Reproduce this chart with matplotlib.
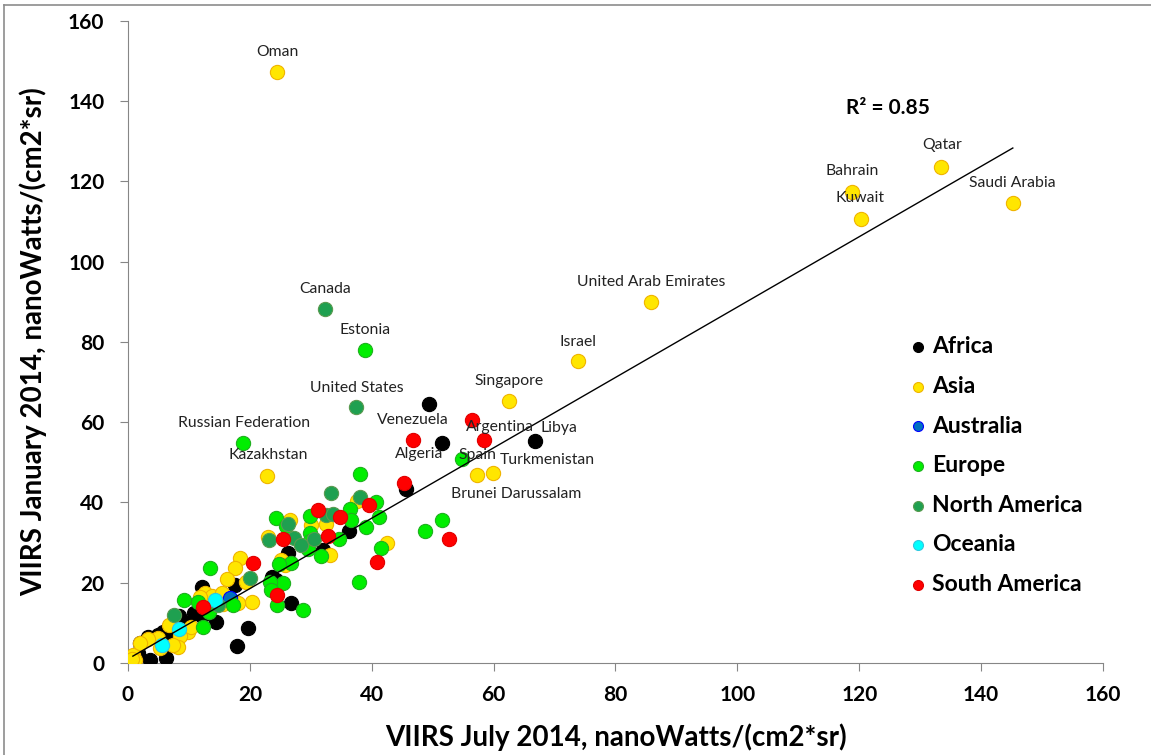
import numpy as np
import matplotlib
matplotlib.use("Agg")
import matplotlib.pyplot as plt
from matplotlib.lines import Line2D

plt.rcParams['font.family'] = ['Lato', 'DejaVu Sans']

# VIIRS radiance per country, July 2014 (x) vs January 2014 (y)
africa_x = [49.4, 51.5, 66.8, 45.6, 36.3, 32.0, 26.2, 23.6, 24.3, 17.6, 12.1, 26.7, 12.1, 10.8,
            14.4, 19.7, 17.9, 8.4, 9.8, 5.7, 4.9, 3.6, 6.2, 2.0, 3.3, 1.6, 6.5]
africa_y = [64.5, 54.8, 55.3, 43.4, 32.9, 28.2, 27.4, 21.4, 20.7, 19.4, 18.9, 15.0, 11.7, 12.5,
            10.2, 8.7, 4.2, 11.7, 10.0, 7.7, 7.0, 0.7, 1.2, 5.0, 6.5, 2.5, 7.5]

asia_x = [24.45, 133.4, 118.8, 120.3, 145.2, 85.8, 73.8, 62.5, 22.8, 57.3, 59.9,
          37.6, 26.6, 32.5, 30.0, 23.0, 33.1, 42.5, 18.4, 17.6, 25.1, 25.8, 16.2, 19.4,
          20.3, 12.6, 13.8, 15.4, 15.6, 18.0, 11.8, 6.7, 9.8, 8.5, 4.9, 3.3, 8.2, 0.8,
          1.1, 5.3, 2.0, 7.4, 10.4, 0.6]
asia_y = [147.3, 123.6, 117.4, 110.7, 114.6, 90.0, 75.3, 65.3, 46.6, 46.9, 47.4,
          40.4, 35.6, 34.6, 34.4, 31.4, 26.9, 29.9, 26.2, 23.7, 25.7, 24.4, 20.9, 20.2,
          15.2, 17.4, 16.7, 17.4, 14.7, 15.0, 16.4, 9.5, 7.7, 6.7, 6.2, 6.0, 4.0, 2.0,
          0.7, 3.7, 5.0, 4.5, 9.0, 1.0]

australia_x = [16.7]
australia_y = [16.2]

europe_x = [38.9, 18.9, 54.8, 38.1, 40.7, 36.4, 41.2, 29.9, 24.3, 25.9, 36.6, 39.1, 29.9,
            29.9, 34.6, 29.5, 31.7, 41.5, 51.5, 48.7, 37.9, 26.7, 24.8, 13.5, 25.4, 23.3,
            23.5, 24.4, 28.7, 9.2, 17.2, 13.3, 12.3, 11.5]
europe_y = [78.0, 54.8, 50.8, 47.1, 40.1, 38.4, 36.4, 36.6, 36.1, 34.1, 35.6, 33.9, 32.4,
            30.4, 30.9, 28.4, 26.7, 28.7, 35.6, 32.9, 20.2, 25.0, 24.7, 23.7, 19.9, 20.2,
            18.2, 14.5, 13.2, 15.7, 14.5, 12.7, 9.0, 15.2]

namerica_x = [32.3, 37.4, 33.3, 38.1, 32.5, 33.6, 26.3, 23.1, 27.2, 28.4, 30.5, 20.0, 14.8, 7.5]
namerica_y = [88.2, 63.8, 42.4, 41.4, 36.9, 37.1, 34.6, 30.7, 31.2, 29.4, 30.9, 21.2, 14.5, 12.0]

oceania_x = [14.3, 8.4, 5.6]
oceania_y = [15.7, 8.5, 4.5]

samerica_x = [46.8, 56.4, 58.4, 45.3, 39.5, 31.2, 34.8, 32.8, 25.4, 52.7, 40.9, 20.5, 24.5, 12.3]
samerica_y = [55.6, 60.6, 55.6, 44.9, 39.4, 38.1, 36.4, 31.7, 30.9, 30.9, 25.2, 24.9, 16.9, 14.0]

# linear trend as shown on the chart
trend_slope = 0.877
trend_intercept = 1.0
trend_range = [0.8, 145.2]

# country labels: name, label x, label y
label_names = ['Oman', 'Qatar', 'Bahrain', 'Kuwait', 'Saudi Arabia', 'United Arab Emirates',
               'Canada', 'Estonia', 'Israel', 'Singapore', 'United States', 'Russian Federation',
               'Kazakhstan', 'Venezuela', 'Algeria', 'Argentina', 'Libya', 'Spain',
               'Turkmenistan', 'Brunei Darussalam']
label_x = [24.6, 133.6, 118.8, 120.1, 145.1, 85.8, 32.3, 38.9, 73.8, 62.5, 37.6, 19.0,
           23.0, 46.8, 47.8, 61.0, 70.8, 57.4, 68.8, 63.75]
label_y = [152.3, 129.1, 122.6, 115.9, 119.6, 95.0, 93.2, 83.0, 80.0, 70.3, 68.5, 59.8,
           51.8, 60.6, 52.1, 58.8, 58.6, 51.8, 50.6, 42.1]

groups = [
    ('Africa', africa_x, africa_y, '#000000', '#000000'),
    ('Asia', asia_x, asia_y, '#FFE600', '#F0B400'),
    ('Australia', australia_x, australia_y, '#0070C0', '#0000FF'),
    ('Europe', europe_x, europe_y, '#00EE00', '#20B020'),
    ('North America', namerica_x, namerica_y, '#1FA050', '#5A9A50'),
    ('Oceania', oceania_x, oceania_y, '#00FFFF', '#30C8E0'),
    ('South America', samerica_x, samerica_y, '#FF0000', '#E00000'),
]

fig = plt.figure(figsize=(11.51, 7.55), dpi=100)
ax = fig.add_axes([0.1112, 0.1219, 0.8471, 0.8503])

for name, xs, ys, fc, ec in groups:
    ax.scatter(xs, ys, s=105, color=fc, edgecolors=ec, linewidths=0.8, label=name, zorder=3)

xx = np.array(trend_range)
ax.plot(xx, trend_slope * xx + trend_intercept, color='black', lw=1, zorder=4)
ax.text(124.7, 138.3, 'R² = 0.85', fontsize=15, fontweight='bold', ha='center', va='center')

for n, lx, ly in zip(label_names, label_x, label_y):
    ax.text(lx, ly, n, fontsize=11.3, ha='center', va='center', color='#222222', zorder=5)

ax.set_xlim(0, 160)
ax.set_ylim(0, 160)
ax.set_xticks(range(0, 161, 20))
ax.set_yticks(range(0, 161, 20))
for s in ['top', 'right']:
    ax.spines[s].set_visible(False)
for s in ['left', 'bottom']:
    ax.spines[s].set_color('#868686')
ax.tick_params(colors='#868686', length=6, labelcolor='black', labelsize=15)
ax.tick_params(axis='y', pad=11)
ax.tick_params(axis='x', pad=10)
for lab in ax.get_xticklabels() + ax.get_yticklabels():
    lab.set_fontweight('bold')

ax.set_xlabel('VIIRS July 2014, nanoWatts/(cm2*sr)', fontsize=20, fontweight='bold', labelpad=13)
ax.set_ylabel('VIIRS January 2014, nanoWatts/(cm2*sr)', fontsize=20, fontweight='bold', labelpad=15)

leg = ax.legend(loc='upper left', bbox_to_anchor=(0.789, 0.523), frameon=False,
                prop={'size': 16.5, 'weight': 'bold'}, markerscale=0.7,
                handlelength=1.0, handletextpad=0.1, labelspacing=0.81, borderaxespad=0)

# thin grey frame on top and left of the chart area
fig.add_artist(Line2D([4 / 1151, 1], [1 - 5 / 755, 1 - 5 / 755], color='#8c8c8c', lw=1.2))
fig.add_artist(Line2D([4 / 1151, 4 / 1151], [0, 1 - 5 / 755], color='#8c8c8c', lw=1.2))

fig.savefig('out.png', dpi=100)
